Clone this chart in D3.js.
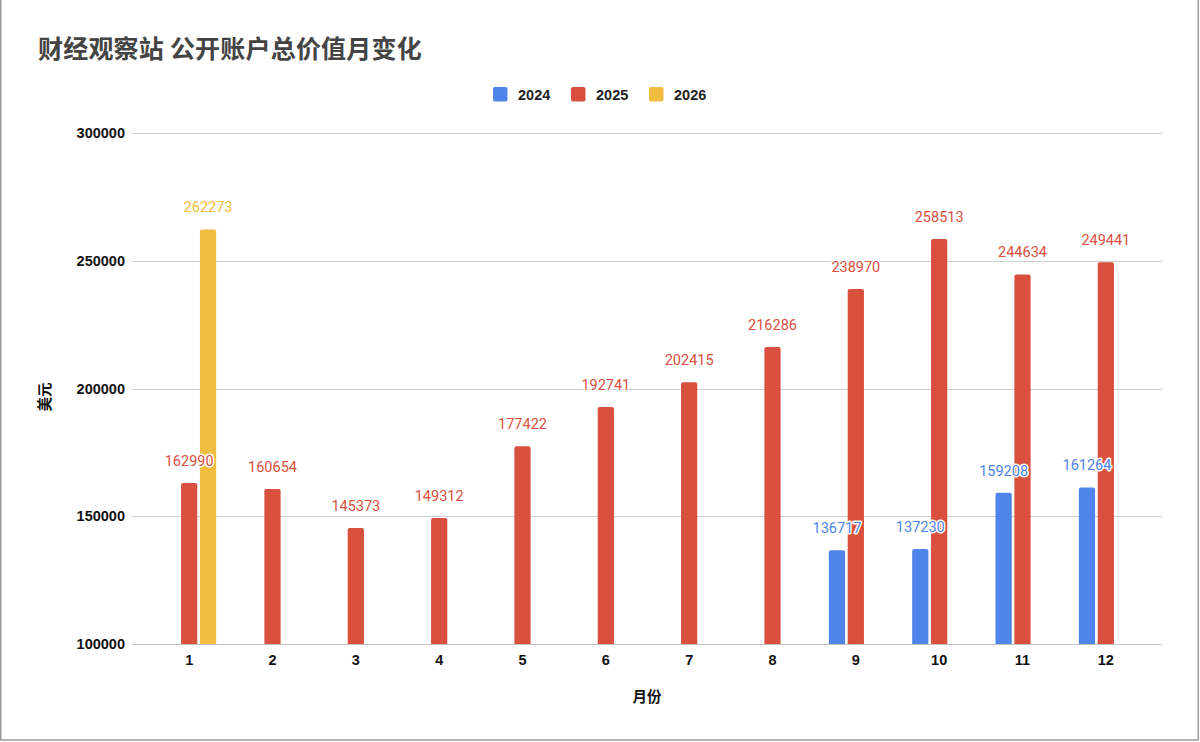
<!DOCTYPE html>
<meta charset="utf-8">
<style>
body { margin: 0; background: #fff; }
svg { display: block; }
.tick text { font-family: "Liberation Sans", Arial, sans-serif; font-weight: bold; font-size: 14.5px; fill: #111; }
.lbl { font-family: Roboto, "Noto Sans", sans-serif; font-size: 14.5px; paint-order: stroke; stroke: #fff; stroke-width: 3px; stroke-linejoin: round; }
</style>
<svg width="1200" height="742"></svg>
<script src="https://d3js.org/d3.v7.min.js"></script>
<script>

var months = ["1","2","3","4","5","6","7","8","9","10","11","12"];
var seriesNames = ["2024", "2025", "2026"];
var values2024 = [null, null, null, null, null, null, null, null, 136717, 137230, 159208, 161264];
var values2025 = [162990, 160654, 145373, 149312, 177422, 192741, 202415, 216286, 238970, 258513, 244634, 249441];
var values2026 = [262273, null, null, null, null, null, null, null, null, null, null, null];
var yTicks = [100000, 150000, 200000, 250000, 300000];
var colors = ["#4f84ea", "#d9503f", "#f1bd40"];

var allValues = [values2024, values2025, values2026];

var svg = d3.select("svg");

// frame
svg.append("rect")
    .attr("x", 0.75).attr("y", -2)
    .attr("width", 1197.5).attr("height", 742)
    .attr("fill", "none").attr("stroke", "#9a9a9a").attr("stroke-width", 1.5);

var plotLeft = 132, plotRight = 1162, plotTop = 133, plotBottom = 644;

var y = d3.scaleLinear().domain([100000, 300000]).range([plotBottom, plotTop]);
var x = d3.scaleBand().domain(months).range([147.5, 1147.5]);
var xs = d3.scaleBand().domain(seriesNames).range([-27, 27]).paddingInner(0.14);

// title
svg.append("text")
    .attr("x", 38).attr("y", 58)
    .attr("font-family", "'Noto Sans CJK SC', sans-serif")
    .attr("font-weight", "bold").attr("font-size", 25)
    .attr("letter-spacing", 0.2)
    .attr("fill", "#444")
    .text("财经观察站 公开账户总价值月变化");

// legend
var legendX = [493, 571, 649];
var lg = svg.append("g").selectAll("g")
    .data(seriesNames)
    .enter().append("g")
    .attr("transform", function(d, i) { return "translate(" + legendX[i] + ",87)"; });
lg.append("rect")
    .attr("width", 14.5).attr("height", 14.5).attr("rx", 2)
    .attr("fill", function(d, i) { return colors[i]; });
lg.append("text")
    .attr("x", 25).attr("y", 12.5)
    .attr("font-family", "'Liberation Sans', Arial, sans-serif")
    .attr("font-weight", "bold").attr("font-size", 14.5)
    .attr("fill", "#222")
    .text(function(d) { return d; });

// grid
svg.append("g").selectAll("line")
    .data(yTicks)
    .enter().append("line")
    .attr("x1", plotLeft).attr("x2", plotRight)
    .attr("y1", function(d) { return Math.round(y(d)) + 0.5; })
    .attr("y2", function(d) { return Math.round(y(d)) + 0.5; })
    .attr("stroke", function(d) { return d === 100000 ? "#c4c4c4" : "#cfcfcf"; })
    .attr("stroke-width", 1.2);

// y axis
var yAxis = svg.append("g")
    .attr("transform", "translate(" + (plotLeft - 7) + ",0)")
    .call(d3.axisLeft(y).tickValues(yTicks).tickSize(0).tickPadding(0).tickFormat(d3.format("d")));
yAxis.select(".domain").remove();

// x axis
var xAxis = svg.append("g")
    .attr("transform", "translate(0," + (plotBottom + 10) + ")")
    .call(d3.axisBottom(x).tickSize(0).tickPadding(0));
xAxis.select(".domain").remove();
xAxis.selectAll("text").attr("dy", "0.75em");

// axis titles
svg.append("text")
    .attr("transform", "translate(50,397) rotate(-90)")
    .attr("text-anchor", "middle")
    .attr("font-family", "'Noto Sans CJK SC', sans-serif")
    .attr("font-weight", "bold").attr("font-size", 14.5)
    .attr("fill", "#111")
    .text("美元");
svg.append("text")
    .attr("x", 647).attr("y", 702)
    .attr("text-anchor", "middle")
    .attr("font-family", "'Noto Sans CJK SC', sans-serif")
    .attr("font-weight", "bold").attr("font-size", 14.5)
    .attr("fill", "#111")
    .text("月份");

// bars
var points = [];
allValues.forEach(function(vals, s) {
    vals.forEach(function(v, m) {
        if (v != null) points.push({ s: s, m: months[m], v: v });
    });
});

var bw = xs.bandwidth();
function barPath(d) {
    var x0 = x(d.m) + x.bandwidth() / 2 + xs(seriesNames[d.s]);
    var y0 = y(d.v), r = 2;
    return "M" + x0 + "," + plotBottom +
        "V" + (y0 + r) + "Q" + x0 + "," + y0 + " " + (x0 + r) + "," + y0 +
        "H" + (x0 + bw - r) + "Q" + (x0 + bw) + "," + y0 + " " + (x0 + bw) + "," + (y0 + r) +
        "V" + plotBottom + "Z";
}

svg.append("g").selectAll("path")
    .data(points)
    .enter().append("path")
    .attr("d", barPath)
    .attr("fill", function(d) { return colors[d.s]; });

svg.append("g").selectAll("text")
    .data(points)
    .enter().append("text")
    .attr("class", "lbl")
    .attr("x", function(d) { return x(d.m) + x.bandwidth() / 2 + xs(seriesNames[d.s]) + bw / 2; })
    .attr("y", function(d) { return y(d.v) - 17; })
    .attr("text-anchor", "middle")
    .attr("fill", function(d) { return colors[d.s]; })
    .text(function(d) { return d.v; });

</script>
